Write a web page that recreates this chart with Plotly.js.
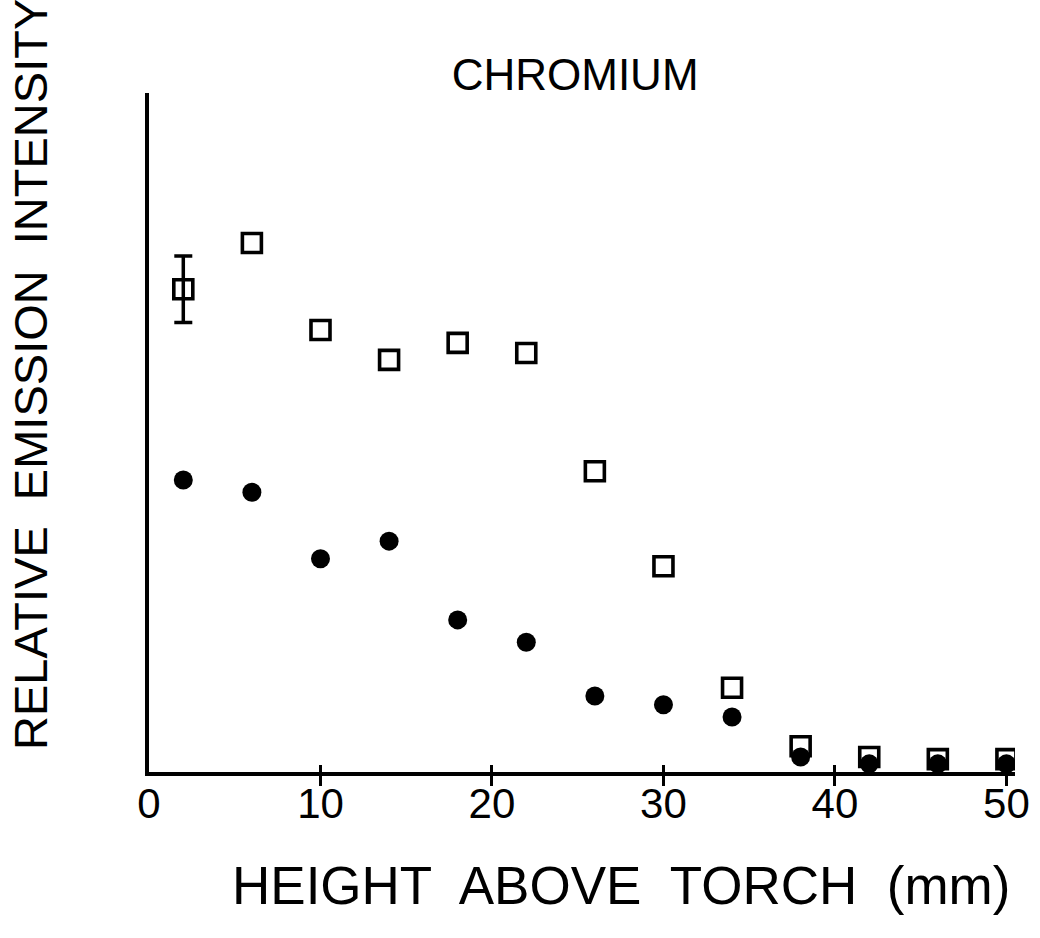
<!DOCTYPE html>
<html>
<head>
<meta charset="utf-8">
<script src="https://cdn.plot.ly/plotly-3.0.1.min.js"></script>
<style>html,body{margin:0;padding:0;background:#fff;}#chart{width:1040px;height:938px;}</style>
</head>
<body>
<div id="chart"></div>
<script>
const heights = [2, 6, 10, 14, 18, 22, 26, 30, 34, 38, 42, 46, 50];
const openSeries = [71.1, 77.9, 65.1, 60.7, 63.2, 61.7, 44.3, 30.3, 12.4, 3.8, 2.2, 1.9, 1.9];
const openErrors = [4.9, NaN, NaN, NaN, NaN, NaN, NaN, NaN, NaN, NaN, NaN, NaN, NaN];
const filledSeries = [43.0, 41.2, 31.4, 34.0, 22.4, 19.1, 11.2, 9.9, 8.1, 2.2, 1.2, 1.2, 1.2];
const xTicks = [0, 10, 20, 30, 40, 50];
const xTickLabels = ['0', '10', '20', '30', '40', '50'];

const FONT = 'Liberation Sans, Arial, Helvetica, sans-serif';

const traces = [
  {
    x: heights, y: openSeries, type: 'scatter', mode: 'markers',
    marker: {symbol: 'square-open', size: 19, color: '#000', line: {width: 3.6, color: '#000'}},
    error_y: {type: 'data', array: openErrors, visible: true, color: '#000', thickness: 3.5, width: 9},
    hoverinfo: 'x+y', showlegend: false
  },
  {
    x: heights, y: filledSeries, type: 'scatter', mode: 'markers',
    marker: {symbol: 'circle', size: 19, color: '#000'},
    hoverinfo: 'x+y', showlegend: false
  },
  // binds the overlaying axis that carries the inner tick halves and the labels
  {x: [null], y: [null], xaxis: 'x2', yaxis: 'y', type: 'scatter', mode: 'markers', showlegend: false, hoverinfo: 'skip'}
];

const layout = {
  width: 1040, height: 938,
  paper_bgcolor: '#fff', plot_bgcolor: '#fff',
  margin: {l: 149, r: 25, t: 93, b: 166},
  showlegend: false,
  font: {family: FONT, color: '#000'},
  title: {text: 'CHROMIUM', font: {family: FONT, size: 44, color: '#000'},
          xref: 'container', yref: 'container', x: 0.553, y: 0.92, xanchor: 'center', yanchor: 'middle'},
  xaxis: {
    range: [0, 50.5], showgrid: false, zeroline: false,
    showline: true, linewidth: 4, linecolor: '#000',
    tickmode: 'array', tickvals: xTicks.slice(1), showticklabels: false,
    ticks: 'outside', ticklen: 10, tickwidth: 3, tickcolor: '#000'
  },
  xaxis2: {
    range: [0, 50.5], overlaying: 'x', side: 'bottom', anchor: 'y',
    showgrid: false, zeroline: false, showline: false,
    tickmode: 'array', tickvals: xTicks, ticktext: xTickLabels, showticklabels: true,
    ticks: 'inside', ticklen: 7, tickwidth: 3, tickcolor: '#000',
    ticklabelstandoff: 3,
    tickfont: {family: FONT, size: 42, color: '#000'}
  },
  yaxis: {
    range: [0, 100], showgrid: false, zeroline: false,
    showline: true, linewidth: 4, linecolor: '#000',
    ticks: '', showticklabels: false
  },
  annotations: [
    {text: 'HEIGHT&nbsp; ABOVE&nbsp; TORCH&nbsp; (mm)', xref: 'paper', yref: 'paper',
     x: (621 - 149) / 866, y: -(885 - 772) / 679, xanchor: 'center', yanchor: 'middle',
     showarrow: false, font: {family: FONT, size: 53, color: '#000'}},
    {text: 'RELATIVE&nbsp; EMISSION&nbsp; INTENSITY', xref: 'paper', yref: 'paper',
     x: -(149 - 30) / 866, y: (772 - 375) / 679, xanchor: 'center', yanchor: 'middle', textangle: -90,
     showarrow: false, font: {family: FONT, size: 47, color: '#000'}}
  ]
};

Plotly.newPlot('chart', traces, layout, {displayModeBar: false, staticPlot: true});
</script>
</body>
</html>
